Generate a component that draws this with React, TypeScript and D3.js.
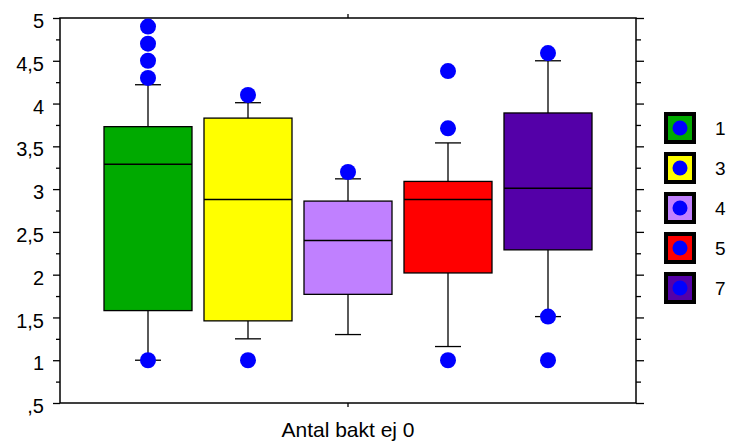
import { useEffect, useRef } from 'react';
import * as d3 from 'd3';

// Box plot data per group
const groups = ['1', '3', '4', '5', '7'];
const boxColors = ['#00AA00', '#FFFF00', '#C080FF', '#FF0000', '#5400A8'];
const q1 = [1.58, 1.46, 1.77, 2.02, 2.29];
const medians = [3.29, 2.88, 2.4, 2.88, 3.01];
const q3 = [3.73, 3.83, 2.86, 3.09, 3.89];
const whiskerLow = [1.0, 1.25, 1.3, 1.16, 1.51];
const whiskerHigh = [4.22, 4.01, 3.12, 3.54, 4.5];
const outliers = [
    [1.0, 4.3, 4.5, 4.7, 4.9],
    [1.0, 4.1],
    [3.2],
    [1.0, 3.71, 4.38],
    [1.0, 1.51, 4.59],
];
const majorTicks = [0.5, 1, 1.5, 2, 2.5, 3, 3.5, 4, 4.5, 5];
const minorTicks = [0.75, 1.25, 1.75, 2.25, 2.75, 3.25, 3.75, 4.25, 4.75];
const xTitle = 'Antal bakt ej 0';

const FONT = '"Liberation Sans", Arial, sans-serif';

export default function App() {
    const svgRef = useRef<SVGSVGElement>(null);

    useEffect(() => {
        if (!svgRef.current) return;
        const svg = d3.select(svgRef.current);
        svg.selectAll('*').remove();

        const left = 60, right = 636, top = 18, bottom = 403;

        const x = d3.scaleBand<string>()
            .domain(groups)
            .range([left, right])
            .paddingInner(0.12)
            .paddingOuter(0.44);

        const y = d3.scaleLinear().domain([0.5, 5]).range([bottom, top]);

        const fmt = (v: number) => String(v).replace('.', ',').replace(/^0,/, ',');

        // Left axis
        svg.append('g')
            .attr('transform', `translate(${left},0)`)
            .call(d3.axisLeft(y).tickValues(majorTicks).tickSize(7).tickPadding(9).tickFormat(d => fmt(+d)))
            .call(g => g.select('.domain').remove())
            .call(g => g.selectAll('.tick line').attr('stroke', '#000').attr('stroke-width', 1.3))
            .call(g => g.selectAll('.tick text')
                .attr('fill', '#000')
                .attr('font-family', FONT)
                .attr('font-size', '20px')
                .attr('dy', '0.48em'));

        svg.append('g')
            .attr('transform', `translate(${left},0)`)
            .call(d3.axisLeft(y).tickValues(minorTicks).tickSize(4).tickFormat(() => ''))
            .call(g => g.select('.domain').remove())
            .call(g => g.selectAll('.tick line').attr('stroke', '#000').attr('stroke-width', 1.3));

        // Right axis (ticks only)
        svg.append('g')
            .attr('transform', `translate(${right},0)`)
            .call(d3.axisRight(y).tickValues(majorTicks).tickSize(8).tickFormat(() => ''))
            .call(g => g.select('.domain').remove())
            .call(g => g.selectAll('.tick line').attr('stroke', '#000').attr('stroke-width', 1.3));

        svg.append('g')
            .attr('transform', `translate(${right},0)`)
            .call(d3.axisRight(y).tickValues(minorTicks).tickSize(5).tickFormat(() => ''))
            .call(g => g.select('.domain').remove())
            .call(g => g.selectAll('.tick line').attr('stroke', '#000').attr('stroke-width', 1.3));

        // Top / bottom centre ticks
        const mid = (left + right) / 2;
        svg.append('line').attr('x1', mid).attr('x2', mid).attr('y1', top).attr('y2', top - 4)
            .attr('stroke', '#000').attr('stroke-width', 1.3);
        svg.append('line').attr('x1', mid).attr('x2', mid).attr('y1', bottom).attr('y2', bottom + 4)
            .attr('stroke', '#000').attr('stroke-width', 1.3);

        // Frame
        svg.append('rect')
            .attr('x', left).attr('y', top)
            .attr('width', right - left).attr('height', bottom - top)
            .attr('fill', 'none').attr('stroke', '#000').attr('stroke-width', 1.5);

        // Boxes
        const bw = x.bandwidth();
        const capW = 26;
        groups.forEach((gname, i) => {
            const cx = (x(gname) || 0) + bw / 2;
            const g = svg.append('g');
            // whiskers
            g.append('line').attr('x1', cx).attr('x2', cx)
                .attr('y1', y(whiskerHigh[i])).attr('y2', y(q3[i]))
                .attr('stroke', '#000').attr('stroke-width', 1.3);
            g.append('line').attr('x1', cx).attr('x2', cx)
                .attr('y1', y(q1[i])).attr('y2', y(whiskerLow[i]))
                .attr('stroke', '#000').attr('stroke-width', 1.3);
            [whiskerHigh[i], whiskerLow[i]].forEach(v => {
                g.append('line').attr('x1', cx - capW / 2).attr('x2', cx + capW / 2)
                    .attr('y1', y(v)).attr('y2', y(v))
                    .attr('stroke', '#000').attr('stroke-width', 1.3);
            });
            g.append('rect')
                .attr('x', x(gname) || 0).attr('y', y(q3[i]))
                .attr('width', bw).attr('height', y(q1[i]) - y(q3[i]))
                .attr('fill', boxColors[i]).attr('stroke', '#000').attr('stroke-width', 1.3);
            g.append('line').attr('x1', x(gname) || 0).attr('x2', (x(gname) || 0) + bw)
                .attr('y1', y(medians[i])).attr('y2', y(medians[i]))
                .attr('stroke', '#000').attr('stroke-width', 1.5);
            g.selectAll('circle.out')
                .data(outliers[i])
                .enter()
                .append('circle')
                .attr('class', 'out')
                .attr('cx', cx).attr('cy', d => y(d))
                .attr('r', 8)
                .attr('fill', '#0000FF');
        });

        // X title
        svg.append('text')
            .attr('x', mid).attr('y', 437)
            .attr('text-anchor', 'middle')
            .attr('font-family', FONT)
            .attr('font-size', '21px')
            .attr('fill', '#000')
            .text(xTitle);

        // Legend
        const legend = svg.append('g').attr('transform', 'translate(664,112)');
        groups.forEach((gname, i) => {
            const item = legend.append('g').attr('transform', `translate(0,${i * 40})`);
            item.append('rect')
                .attr('x', 2).attr('y', 2).attr('width', 28).attr('height', 28)
                .attr('fill', boxColors[i]).attr('stroke', '#000').attr('stroke-width', 4);
            item.append('circle').attr('cx', 16).attr('cy', 16).attr('r', 7.5).attr('fill', '#0000FF');
            item.append('text')
                .attr('x', 51).attr('y', 16).attr('dy', '0.36em')
                .attr('font-family', FONT)
                .attr('font-size', '19px')
                .attr('fill', '#000')
                .text(gname);
        });
    }, []);

    return (
        <div style={{ position: 'fixed', left: 0, top: 0, background: '#fff' }}>
            <svg ref={svgRef} width={729} height={441} style={{ display: 'block' }} />
        </div>
    );
}
